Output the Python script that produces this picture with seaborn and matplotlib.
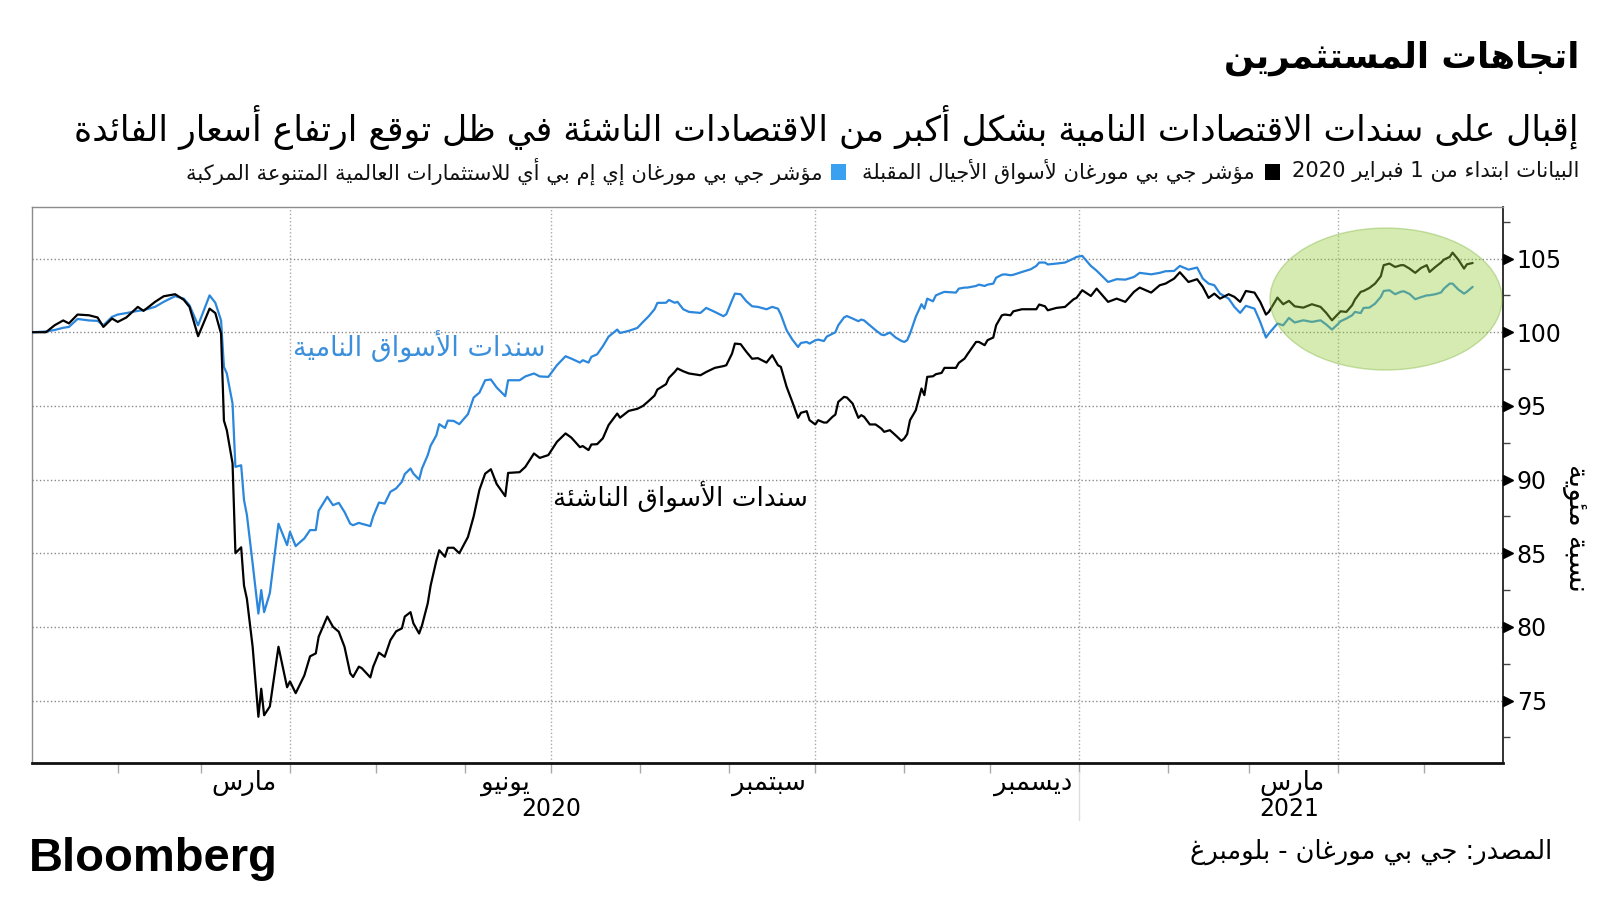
import re
import numpy as np
import pandas as pd
import matplotlib
matplotlib.use("Agg")
import matplotlib.pyplot as plt
import matplotlib.dates as mdates
import matplotlib.transforms as mtransforms
from matplotlib.patches import Ellipse, Rectangle
from matplotlib.ticker import FixedLocator
import seaborn as sns

# ---------------- data ----------------
dates = [
    "2020-01-02", "2020-01-07", "2020-01-10", "2020-01-13", "2020-01-15", "2020-01-18",
    "2020-01-22", "2020-01-25", "2020-01-27", "2020-01-30", "2020-02-01", "2020-02-04",
    "2020-02-08", "2020-02-10", "2020-02-14", "2020-02-17", "2020-02-21", "2020-02-24",
    "2020-02-26", "2020-02-29", "2020-03-04", "2020-03-06", "2020-03-08", "2020-03-09",
    "2020-03-10", "2020-03-12", "2020-03-13", "2020-03-15", "2020-03-16", "2020-03-17",
    "2020-03-19", "2020-03-21", "2020-03-22", "2020-03-23", "2020-03-25", "2020-03-28",
    "2020-03-31", "2020-04-01",
    "2020-04-03", "2020-04-04", "2020-04-06", "2020-04-08", "2020-04-10", "2020-04-11",
    "2020-04-14", "2020-04-16", "2020-04-18", "2020-04-20", "2020-04-22", "2020-04-23",
    "2020-04-25", "2020-04-26", "2020-04-29", "2020-04-30", "2020-05-02", "2020-05-04",
    "2020-05-06", "2020-05-08", "2020-05-10", "2020-05-11", "2020-05-13", "2020-05-14",
    "2020-05-16", "2020-05-17", "2020-05-19", "2020-05-20", "2020-05-22", "2020-05-23",
    "2020-05-25", "2020-05-26", "2020-05-28", "2020-05-30", "2020-06-02", "2020-06-04",
    "2020-06-06", "2020-06-08", "2020-06-10", "2020-06-12", "2020-06-15", "2020-06-16",
    "2020-06-20", "2020-06-22", "2020-06-25", "2020-06-27", "2020-06-30",
    "2020-07-03", "2020-07-06", "2020-07-08", "2020-07-11", "2020-07-12", "2020-07-14",
    "2020-07-15", "2020-07-17", "2020-07-19", "2020-07-21", "2020-07-24", "2020-07-25",
    "2020-07-28", "2020-07-31", "2020-08-02", "2020-08-04", "2020-08-06", "2020-08-07",
    "2020-08-10", "2020-08-11", "2020-08-13", "2020-08-14", "2020-08-16", "2020-08-18",
    "2020-08-22", "2020-08-24", "2020-08-27", "2020-08-30", "2020-08-31", "2020-09-02",
    "2020-09-03", "2020-09-05", "2020-09-07", "2020-09-09", "2020-09-11", "2020-09-14",
    "2020-09-16", "2020-09-18", "2020-09-19", "2020-09-21", "2020-09-23", "2020-09-25",
    "2020-09-26", "2020-09-28", "2020-09-29", "2020-10-01",
    "2020-10-02", "2020-10-04", "2020-10-05", "2020-10-07", "2020-10-08", "2020-10-09",
    "2020-10-11", "2020-10-12", "2020-10-14", "2020-10-16", "2020-10-17", "2020-10-18",
    "2020-10-20", "2020-10-22", "2020-10-24", "2020-10-25", "2020-10-27", "2020-10-29",
    "2020-10-31", "2020-11-01", "2020-11-02", "2020-11-03", "2020-11-05", "2020-11-07",
    "2020-11-08", "2020-11-09", "2020-11-11", "2020-11-12", "2020-11-14", "2020-11-15",
    "2020-11-19", "2020-11-20", "2020-11-22", "2020-11-23", "2020-11-26", "2020-11-27",
    "2020-11-29", "2020-11-30", "2020-12-02", "2020-12-03", "2020-12-05", "2020-12-06",
    "2020-12-08", "2020-12-09", "2020-12-12", "2020-12-15", "2020-12-17", "2020-12-18",
    "2020-12-20", "2020-12-21", "2020-12-24", "2020-12-27", "2020-12-30", "2020-12-31",
    "2021-01-02", "2021-01-05", "2021-01-07", "2021-01-11", "2021-01-14", "2021-01-17",
    "2021-01-20", "2021-01-22", "2021-01-26", "2021-01-29", "2021-01-31", "2021-02-03",
    "2021-02-05", "2021-02-08", "2021-02-11", "2021-02-13", "2021-02-15", "2021-02-17",
    "2021-02-19", "2021-02-22", "2021-02-24", "2021-02-26", "2021-02-28", "2021-03-03",
    "2021-03-05", "2021-03-07", "2021-03-08", "2021-03-11", "2021-03-13", "2021-03-15",
    "2021-03-17", "2021-03-20", "2021-03-23", "2021-03-26", "2021-03-28", "2021-03-30",
    "2021-04-01",
    "2021-04-02", "2021-04-04", "2021-04-06", "2021-04-07", "2021-04-09", "2021-04-10",
    "2021-04-12", "2021-04-14", "2021-04-16", "2021-04-17", "2021-04-19", "2021-04-21",
    "2021-04-23", "2021-04-24", "2021-04-26", "2021-04-28", "2021-04-30", "2021-05-02",
    "2021-05-03", "2021-05-05", "2021-05-07", "2021-05-08", "2021-05-10", "2021-05-11",
    "2021-05-13", "2021-05-15", "2021-05-16", "2021-05-18",
]

# black line: emerging-market bonds (NEXGEM)
emerging = [
    100.0, 100.0, 100.47, 100.8, 100.6, 101.2,
    101.15, 101.0, 100.36, 100.93, 100.7, 101.0,
    101.72, 101.45, 102.06, 102.44, 102.58, 102.2,
    101.72, 99.73, 101.6, 101.3, 99.9, 94.0,
    93.35, 91.1, 85.0, 85.4, 82.8, 81.9,
    78.65, 73.9, 75.8, 74.0, 74.6, 78.65,
    75.9, 76.3,
    75.5, 75.9, 76.7, 78.0, 78.2, 79.33,
    80.7, 80.0, 79.67, 78.65, 76.84, 76.6,
    77.3, 77.2, 76.57, 77.3, 78.25, 77.97,
    79.1, 79.7, 79.9, 80.7, 81.0, 80.24,
    79.55, 80.1, 81.6, 82.8, 84.5, 85.2,
    84.76, 85.37, 85.37, 85.0, 86.1, 87.5,
    89.3, 90.4, 90.7, 89.7, 88.87, 90.45,
    90.5, 90.86, 91.77, 91.47, 91.66,
    92.56, 93.13, 92.85, 92.2, 92.27, 92.0,
    92.38, 92.4, 92.8, 93.7, 94.48, 94.2,
    94.66, 94.8, 95.0, 95.34, 95.7, 96.11,
    96.47, 96.9, 97.3, 97.54, 97.35, 97.2,
    97.08, 97.3, 97.58, 97.7, 97.76, 98.55,
    99.23, 99.19, 98.67, 98.2, 98.24, 97.94,
    98.44, 97.76, 97.65, 96.3, 95.27, 94.19,
    94.53, 94.64, 94.03, 93.74,
    94.03, 93.87, 93.87, 94.26, 94.41, 95.27,
    95.61, 95.57, 95.16, 94.19, 94.37, 94.26,
    93.74, 93.74, 93.46, 93.24, 93.35, 93.0,
    92.63, 92.79, 93.08, 94.03, 94.7, 96.18,
    95.73, 96.97, 97.01, 97.15, 97.24, 97.58,
    97.58, 97.92, 98.21, 98.5, 99.34, 99.34,
    99.12, 99.46, 99.64, 100.47, 101.15, 101.2,
    101.15, 101.42, 101.56, 101.56, 101.56, 101.88,
    101.76, 101.49, 101.65, 101.72, 102.24, 102.33,
    102.85, 102.46, 102.96, 102.06, 102.28, 102.06,
    102.74, 103.03, 102.69, 103.19, 103.3, 103.64,
    104.07, 103.41, 103.6, 103.08, 102.33, 102.62,
    102.28, 102.58, 102.4, 102.06, 102.8, 102.69,
    102.06, 101.2, 101.38, 102.35, 101.9, 102.13,
    101.76, 101.67, 101.9, 101.72, 101.31, 100.81,
    101.22,
    101.42, 101.38, 101.83, 102.22, 102.74, 102.8,
    103.0, 103.3, 103.8, 104.55, 104.66, 104.43,
    104.55, 104.55, 104.32, 104.03, 104.36, 104.55,
    104.09, 104.43, 104.73, 104.93, 105.11, 105.4,
    104.93, 104.32, 104.61, 104.7,
]

# blue line: developing-market bonds (EMBI Global Diversified)
developing = [
    100.0, 100.05, 100.15, 100.3, 100.36, 100.9,
    100.8, 100.77, 100.47, 101.04, 101.2, 101.3,
    101.45, 101.5, 101.72, 102.06, 102.45, 102.28,
    101.83, 100.47, 102.5, 102.0, 100.8, 97.65,
    97.2, 95.16, 90.86, 90.97, 88.6, 87.6,
    84.3, 80.9, 82.5, 81.0, 82.3, 87.0,
    85.55, 86.45,
    85.48, 85.66, 86.0, 86.57, 86.57, 87.88,
    88.83, 88.26, 88.42, 87.8, 87.0, 86.9,
    87.06, 87.0, 86.84, 87.5, 88.44, 88.37,
    89.17, 89.4, 89.85, 90.37, 90.75, 90.4,
    90.0, 90.75, 91.66, 92.3, 93.0, 93.76,
    93.5, 94.0, 93.98, 93.76, 94.44, 95.57,
    95.9, 96.74, 96.79, 96.25, 95.66, 96.74,
    96.74, 97.0, 97.2, 97.0, 96.97,
    97.76, 98.37, 98.21, 97.94, 98.1, 97.94,
    98.33, 98.5, 99.05, 99.7, 100.18, 99.95,
    100.09, 100.29, 100.7, 101.09, 101.56, 101.99,
    102.0, 102.19, 102.0, 102.06, 101.56, 101.38,
    101.31, 101.65, 101.38, 101.09, 101.22, 102.17,
    102.62, 102.58, 102.1, 101.76, 101.72, 101.56,
    101.72, 101.6, 101.2, 100.14, 99.5, 99.0,
    99.27, 99.34, 99.23, 99.45,
    99.5, 99.4, 99.7, 99.9, 100.0, 100.47,
    101.0, 101.1, 100.93, 100.75, 100.86, 100.8,
    100.47, 100.14, 99.84, 99.8, 99.98, 99.64,
    99.41, 99.34, 99.46, 99.9, 101.04, 101.9,
    101.6, 102.28, 102.1, 102.5, 102.67, 102.74,
    102.69, 102.96, 103.03, 103.03, 103.14, 103.23,
    103.14, 103.23, 103.3, 103.7, 103.9, 103.93,
    103.87, 103.9, 104.09, 104.27, 104.5, 104.73,
    104.73, 104.6, 104.66, 104.73, 105.0, 105.11,
    105.18, 104.5, 104.18, 103.41, 103.6, 103.57,
    103.75, 104.03, 103.93, 104.03, 104.14, 104.16,
    104.5, 104.25, 104.39, 103.64, 103.3, 103.19,
    102.62, 102.28, 101.72, 101.31, 101.79, 101.6,
    100.7, 99.64, 99.91, 100.59, 100.47, 100.97,
    100.66, 100.81, 100.7, 100.81, 100.52, 100.18,
    100.54,
    100.75, 100.93, 101.15, 101.38, 101.3, 101.65,
    101.67, 101.94, 102.4, 102.8, 102.85, 102.58,
    102.75, 102.78, 102.6, 102.24, 102.38, 102.5,
    102.51, 102.58, 102.7, 102.96, 103.3, 103.3,
    102.9, 102.62, 102.75, 103.08,
]

y_ticks = [75, 80, 85, 90, 95, 100, 105]
y_minor_ticks = [72.5, 77.5, 82.5, 87.5, 92.5, 97.5, 102.5, 107.5]
grid_dates = ["2020-04-01", "2020-07-01", "2020-10-01", "2021-01-01", "2021-04-01"]
month_labels = ["مارس", "يونيو", "سبتمبر", "ديسمبر", "مارس"]
month_label_dates = ["2020-03-16", "2020-06-15", "2020-09-15", "2020-12-16", "2021-03-16"]
year_labels = ["2020", "2021"]
year_label_dates = ["2020-07-01", "2021-03-15"]

title_text = "اتجاهات المستثمرين"
subtitle_text = "إقبال على سندات الاقتصادات النامية بشكل أكبر من الاقتصادات الناشئة في ظل توقع ارتفاع أسعار الفائدة"
legend_start = "البيانات ابتداء من 1 فبراير 2020"
legend_black = "مؤشر جي بي مورغان لأسواق الأجيال المقبلة"
legend_blue = "مؤشر جي بي مورغان إي إم بي أي للاستثمارات العالمية المتنوعة المركبة"
label_blue = "سندات الأسواق النامية"
label_black = "سندات الأسواق الناشئة"
y_label = "نسبة مئوية"
source_text = "المصدر: جي بي مورغان - بلومبرغ"

BLUE = "#2b87dc"
BLUE_TEXT = "#3b8fdb"

# ---------------- minimal Arabic shaping (presentation forms + RTL) ----------------
_F = {
    0x0621: (0xFE80, None, None, None), 0x0622: (0xFE81, 0xFE82, None, None),
    0x0623: (0xFE83, 0xFE84, None, None), 0x0624: (0xFE85, 0xFE86, None, None),
    0x0625: (0xFE87, 0xFE88, None, None), 0x0626: (0xFE89, 0xFE8A, 0xFE8B, 0xFE8C),
    0x0627: (0xFE8D, 0xFE8E, None, None), 0x0628: (0xFE8F, 0xFE90, 0xFE91, 0xFE92),
    0x0629: (0xFE93, 0xFE94, None, None), 0x062A: (0xFE95, 0xFE96, 0xFE97, 0xFE98),
    0x062B: (0xFE99, 0xFE9A, 0xFE9B, 0xFE9C), 0x062C: (0xFE9D, 0xFE9E, 0xFE9F, 0xFEA0),
    0x062D: (0xFEA1, 0xFEA2, 0xFEA3, 0xFEA4), 0x062E: (0xFEA5, 0xFEA6, 0xFEA7, 0xFEA8),
    0x062F: (0xFEA9, 0xFEAA, None, None), 0x0630: (0xFEAB, 0xFEAC, None, None),
    0x0631: (0xFEAD, 0xFEAE, None, None), 0x0632: (0xFEAF, 0xFEB0, None, None),
    0x0633: (0xFEB1, 0xFEB2, 0xFEB3, 0xFEB4), 0x0634: (0xFEB5, 0xFEB6, 0xFEB7, 0xFEB8),
    0x0635: (0xFEB9, 0xFEBA, 0xFEBB, 0xFEBC), 0x0636: (0xFEBD, 0xFEBE, 0xFEBF, 0xFEC0),
    0x0637: (0xFEC1, 0xFEC2, 0xFEC3, 0xFEC4), 0x0638: (0xFEC5, 0xFEC6, 0xFEC7, 0xFEC8),
    0x0639: (0xFEC9, 0xFECA, 0xFECB, 0xFECC), 0x063A: (0xFECD, 0xFECE, 0xFECF, 0xFED0),
    0x0641: (0xFED1, 0xFED2, 0xFED3, 0xFED4), 0x0642: (0xFED5, 0xFED6, 0xFED7, 0xFED8),
    0x0643: (0xFED9, 0xFEDA, 0xFEDB, 0xFEDC), 0x0644: (0xFEDD, 0xFEDE, 0xFEDF, 0xFEE0),
    0x0645: (0xFEE1, 0xFEE2, 0xFEE3, 0xFEE4), 0x0646: (0xFEE5, 0xFEE6, 0xFEE7, 0xFEE8),
    0x0647: (0xFEE9, 0xFEEA, 0xFEEB, 0xFEEC), 0x0648: (0xFEED, 0xFEEE, None, None),
    0x0649: (0xFEEF, 0xFEF0, None, None), 0x064A: (0xFEF1, 0xFEF2, 0xFEF3, 0xFEF4),
}
_LAM_ALEF = {0x0622: (0xFEF5, 0xFEF6), 0x0623: (0xFEF7, 0xFEF8),
             0x0625: (0xFEF9, 0xFEFA), 0x0627: (0xFEFB, 0xFEFC)}


def _joins_next(c):
    f = _F.get(ord(c))
    return f is not None and f[2] is not None


def _joins_prev(c):
    f = _F.get(ord(c))
    return f is not None and f[1] is not None


def ar(s):
    chars = list(s)
    out = []
    prev = False
    i, n = 0, len(chars)
    while i < n:
        c = chars[i]
        code = ord(c)
        if code not in _F:
            out.append(c)
            prev = False
            i += 1
            continue
        if code == 0x0644 and i + 1 < n and ord(chars[i + 1]) in _LAM_ALEF:
            iso, fin = _LAM_ALEF[ord(chars[i + 1])]
            out.append(chr(fin if prev else iso))
            prev = False
            i += 2
            continue
        nxt = chars[i + 1] if i + 1 < n else None
        cp = prev and _joins_prev(c)
        cn = _joins_next(c) and nxt is not None and _joins_prev(nxt)
        iso, fin, ini, med = _F[code]
        g = med if (cp and cn) else fin if cp else ini if cn else iso
        out.append(chr(g))
        prev = cn
        i += 1
    shaped = "".join(out)
    tokens = re.findall(r"[0-9A-Za-z]+|.", shaped)
    return "".join(reversed(tokens))


# ---------------- figure ----------------
sns.set_style("white")
plt.rcParams["font.family"] = ["DejaVu Sans"]

W, H = 1600, 900
fig = plt.figure(figsize=(16, 9), dpi=100)
fig.patch.set_facecolor("white")
ax_l, ax_r, ax_t, ax_b = 31.6, 1502.8, 207.0, 763.0
ax = fig.add_axes([ax_l / W, 1 - ax_b / H, (ax_r - ax_l) / W, (ax_b - ax_t) / H])


def fx(px):
    return px / W


def fy(py):
    return 1 - py / H


n = len(dates)
df = pd.DataFrame({
    "date": pd.to_datetime(dates + dates),
    "value": developing + emerging,
    "series": ["developing"] * n + ["emerging"] * n,
})
sns.lineplot(data=df, x="date", y="value", hue="series",
             hue_order=["developing", "emerging"],
             palette={"developing": BLUE, "emerging": "black"},
             linewidth=1.6, estimator=None, legend=False, ax=ax, zorder=3)

ax.set_xlim(pd.Timestamp("2020-01-02"), pd.Timestamp("2021-05-28 12:00"))
ax.set_ylim(70.76, 108.5)
ax.set_xlabel("")
ax.set_ylabel("")

# grid
ax.set_yticks(y_ticks)
ax.yaxis.set_minor_locator(FixedLocator(y_minor_ticks))
ax.grid(axis="y", which="major", linestyle=":", color="#8a8a8a", linewidth=1.0, zorder=1)
for d in grid_dates:
    ax.axvline(pd.Timestamp(d), linestyle=":", color="#a8a8a8", linewidth=1.0, zorder=1)

# spines
for side in ["top", "left"]:
    ax.spines[side].set_color("#8c8c8c")
    ax.spines[side].set_linewidth(1.0)
ax.spines["right"].set_color("#222222")
ax.spines["right"].set_linewidth(1.3)
ax.spines["bottom"].set_color("#111111")
ax.spines["bottom"].set_linewidth(2.0)

# y ticks on the right
ax.tick_params(axis="y", which="major", length=0, pad=10, labelsize=17,
               left=False, right=True, labelleft=False, labelright=True, labelcolor="black")
ax.tick_params(axis="y", which="minor", length=5, width=1, direction="out",
               color="#444444", left=False, right=True)
tri_trans = mtransforms.blended_transform_factory(ax.transAxes, ax.transData) + \
    mtransforms.ScaledTranslation(5 / 100, 0, fig.dpi_scale_trans)
ax.plot([1.0] * len(y_ticks), y_ticks, transform=tri_trans, marker=">", markersize=7,
        color="black", linestyle="none", clip_on=False, zorder=5)

# x ticks: every month, no labels
ax.xaxis.set_major_locator(mdates.MonthLocator())
ax.tick_params(axis="x", which="major", length=7, width=1, color="#aaaaaa",
               direction="out", labelbottom=False, bottom=True)

# highlight ellipse
ell = Ellipse((0.9206, 0.8345), 0.1577, 0.2554, transform=ax.transAxes,
              facecolor="#96cd3c", alpha=0.4, edgecolor="#7fb33a", linewidth=1.0, zorder=6)
ax.add_patch(ell)

renderer = fig.canvas.get_renderer()


def fit(t, target, axis="w"):
    for _ in range(3):
        bb = t.get_window_extent(renderer)
        cur = bb.width if axis == "w" else bb.height
        if cur > 0:
            t.set_fontsize(t.get_fontsize() * target / cur)


# month and year labels
xb_trans = mtransforms.blended_transform_factory(ax.transData, fig.transFigure)
month_texts = []
for lab, d in zip(month_labels, month_label_dates):
    t = ax.text(mdates.date2num(pd.Timestamp(d)), fy(783), ar(lab), transform=xb_trans,
                ha="center", va="center", fontsize=16, color="black")
    month_texts.append(t)
fit(month_texts[2], 74)
for t in month_texts:
    t.set_fontsize(month_texts[2].get_fontsize())
for lab, d in zip(year_labels, year_label_dates):
    ax.text(mdates.date2num(pd.Timestamp(d)), fy(809), lab, transform=xb_trans,
            ha="center", va="center", fontsize=17, color="black")
ax.axvline(pd.Timestamp("2021-01-01"), ymin=-(820 - ax_b) / (ax_b - ax_t),
           ymax=-(772 - ax_b) / (ax_b - ax_t), color="#dddddd", linewidth=1.0, clip_on=False)

# line labels
tb = ax.text(pd.Timestamp("2020-05-16"), 98.98, ar(label_blue), color=BLUE_TEXT,
             ha="center", va="center", fontsize=18, zorder=4)
fit(tb, 252)
tk = ax.text(pd.Timestamp("2020-08-15"), 88.8, ar(label_black), color="black",
             ha="center", va="center", fontsize=18, zorder=4)
fit(tk, 255)

# y label
yl = fig.text(fx(1576), fy(528), ar(y_label), rotation=270, ha="center", va="center",
              fontsize=15, color="black")
fit(yl, 128, axis="h")

# title & subtitle
tt = fig.text(fx(1579), fy(58), ar(title_text), ha="right", va="center",
              fontsize=30, fontweight="bold", color="black")
fit(tt, 355)
st = fig.text(fx(1579), fy(127), ar(subtitle_text), ha="right", va="center",
              fontsize=22, color="black")
fit(st, 1505)

# legend line
pieces = [fig.text(0, fy(171), ar(s), ha="right", va="center", fontsize=12, color="#111111")
          for s in (legend_start, legend_black, legend_blue)]
tot = sum(p.get_window_extent(renderer).width for p in pieces)
for p in pieces:
    p.set_fontsize(12 * 1318 / tot)
widths = [p.get_window_extent(renderer).width for p in pieces]
sq = 15
x_right = 1579
pieces[0].set_x(fx(x_right))
x_cur = x_right - widths[0] - 12
fig.add_artist(Rectangle((fx(x_cur - sq), fy(172 + sq / 2)), sq / W, sq / H,
                         transform=fig.transFigure, facecolor="black", edgecolor="none"))
x_cur = x_cur - sq - 10
pieces[1].set_x(fx(x_cur))
x_cur = x_cur - widths[1] - 16
fig.add_artist(Rectangle((fx(x_cur - sq), fy(172 + sq / 2)), sq / W, sq / H,
                         transform=fig.transFigure, facecolor="#3aa0f0", edgecolor="none"))
x_cur = x_cur - sq - 8
pieces[2].set_x(fx(x_cur))

# footer
bl = fig.text(fx(29), fy(859), "Bloomberg", ha="left", va="center", fontsize=30,
              fontweight="bold", family=["Liberation Sans", "DejaVu Sans"], color="black")
fit(bl, 249)
src = fig.text(fx(1552), fy(852), ar(source_text), ha="right", va="center",
               fontsize=16, color="black")
fit(src, 361)

fig.savefig("out.png", dpi=100, facecolor="white")
